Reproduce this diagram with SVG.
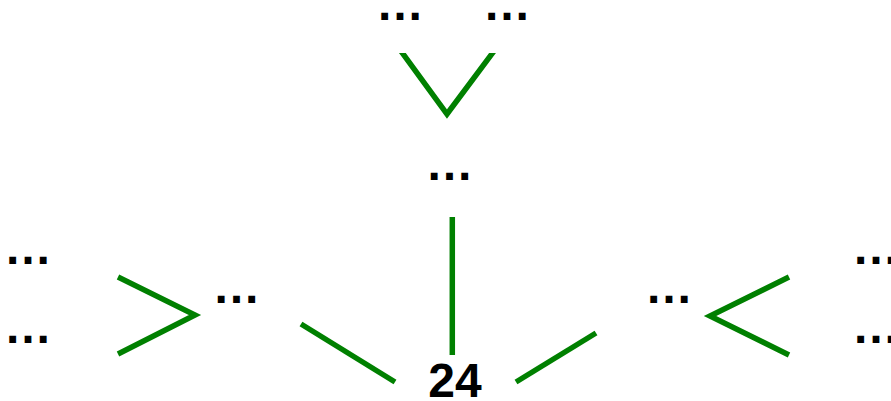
<svg xmlns="http://www.w3.org/2000/svg" width="891" height="401" viewBox="0 0 891 401">
<style>
.lbl{font-family:"Liberation Sans",Arial,sans-serif;font-weight:bold;font-size:48px;fill:#000;text-anchor:middle}
.edge{stroke:#008000;stroke-width:5.5;fill:none;stroke-linecap:butt;stroke-linejoin:miter}
</style>
<defs>
<clipPath id="topclip"><rect x="0" y="53" width="891" height="348"/></clipPath>
</defs>
<rect width="891" height="401" fill="#fff"/>
<g id="connectors">
<polyline class="edge" clip-path="url(#topclip)" points="398,47 447,114 497,47"/>
<line class="edge" x1="452.3" y1="217" x2="452.3" y2="355"/>
<polyline class="edge" points="118,277 195,315 118,354"/>
<polyline class="edge" points="789,277 710,316 789,355"/>
<line class="edge" x1="301" y1="324" x2="395" y2="382"/>
<line class="edge" x1="516" y1="382" x2="596" y2="333"/>
</g>
<g id="n-top-left"><text class="lbl" x="400" y="19.5">…</text></g>
<g id="n-top-right"><text class="lbl" x="507" y="19.5">…</text></g>
<g id="n-mid"><text class="lbl" x="449.5" y="179.5">…</text></g>
<g id="n-left-upper"><text class="lbl" x="28" y="264">…</text></g>
<g id="n-left-lower"><text class="lbl" x="28" y="343">…</text></g>
<g id="n-left-mid"><text class="lbl" x="236.5" y="303">…</text></g>
<g id="n-right-mid"><text class="lbl" x="669" y="303">…</text></g>
<g id="n-right-upper"><text class="lbl" x="876" y="264">…</text></g>
<g id="n-right-lower"><text class="lbl" x="876" y="343">…</text></g>
<g id="n-root"><text class="lbl" x="455" y="397">24</text></g>
</svg>
